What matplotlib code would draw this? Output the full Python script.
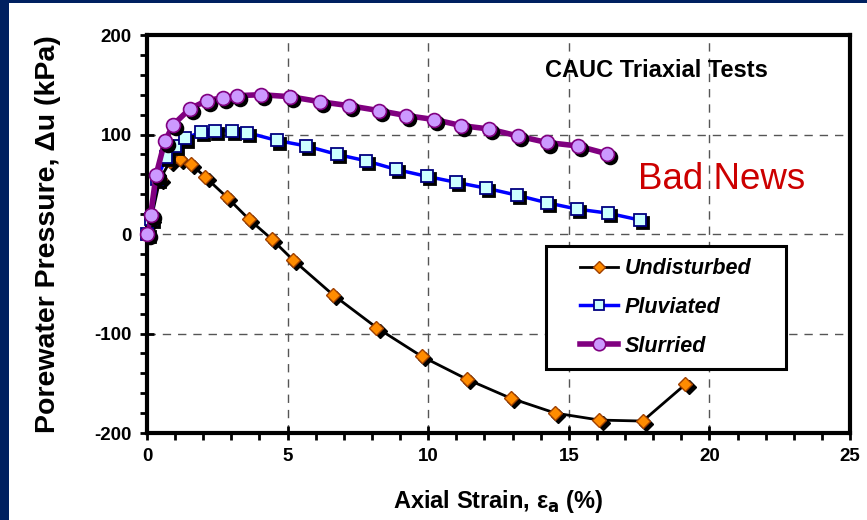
import matplotlib
matplotlib.use("Agg")
import matplotlib.pyplot as plt
import matplotlib.transforms as mtransforms
from matplotlib.lines import Line2D
from matplotlib.patches import Rectangle

plt.rcParams['font.family'] = ['Liberation Sans', 'DejaVu Sans']
plt.rcParams['axes.unicode_minus'] = False

# Axial strain (%) and excess porewater pressure (kPa) for each specimen
undisturbed_strain = [0, 0.15, 0.46, 0.82, 1.18, 1.58, 2.08, 2.84, 3.62, 4.43, 5.19,
                      6.61, 8.16, 9.77, 11.38, 12.93, 14.52, 16.09, 17.63, 19.15]
undisturbed_du = [0, 15, 55, 73, 75, 70, 57, 37, 15, -5, -26,
                  -61, -94, -123, -146, -165, -180, -187, -188, -151]

pluviated_strain = [0, 0.13, 0.35, 0.68, 0.99, 1.36, 1.91, 2.43, 3.03, 3.55, 4.62,
                    5.66, 6.76, 7.8, 8.84, 9.94, 10.98, 12.07, 13.16, 14.21,
                    15.3, 16.39, 17.53]
pluviated_du = [0, 15, 55, 77, 88, 96, 102.5, 103.5, 104, 102, 94,
                88.5, 80, 73.5, 65, 58, 52, 46, 39, 31.5, 25, 21, 14]

slurried_strain = [0, 0.13, 0.32, 0.63, 0.94, 1.53, 2.12, 2.69, 3.19, 4.05, 5.09,
                   6.14, 7.18, 8.25, 9.22, 10.22, 11.17, 12.17, 13.19, 14.21,
                   15.32, 16.37]
slurried_du = [0, 19, 59, 93, 110, 126, 134, 137, 139, 140, 138,
               133, 129, 124, 119, 115, 109, 105.5, 98.5, 92, 88.5, 80.5]

x_ticks = [0, 5, 10, 15, 20, 25]
y_ticks = [-200, -100, 0, 100, 200]

fig = plt.figure(figsize=(8.67, 5.2), dpi=100)
fig.patch.set_facecolor('white')

# navy slide border on the left and top edges
navy = '#002060'
fig.add_artist(Rectangle((0, 0), 9 / 867, 1, transform=fig.transFigure,
                         facecolor=navy, edgecolor='none', zorder=0))
fig.add_artist(Rectangle((0, 1 - 3 / 520), 1, 3 / 520, transform=fig.transFigure,
                         facecolor=navy, edgecolor='none', zorder=0))

ax = fig.add_axes([147 / 867, 1 - 433 / 520, (850 - 147) / 867, (433 - 35) / 520])
ax.set_xlim(0, 25)
ax.set_ylim(-200, 200)
ax.set_xticks(x_ticks)
ax.set_yticks(y_ticks)
ax.set_xticks(range(0, 26), minor=True)
ax.set_yticks(range(-200, 201, 20), minor=True)
ax.tick_params(which='major', direction='inout', length=10, width=2,
               labelsize=13.5, pad=6)
ax.tick_params(which='minor', direction='out', length=5, width=2)
for lab in ax.get_xticklabels() + ax.get_yticklabels():
    lab.set_fontweight('bold')
for sp in ax.spines.values():
    sp.set_linewidth(3)
ax.grid(True, which='major', color='#555555', linestyle=(0, (6, 5)), linewidth=1)
ax.set_axisbelow(True)

shadow = mtransforms.offset_copy(ax.transData, fig=fig, x=2.2, y=-2.2, units='points')

series = [
    ('Undisturbed', undisturbed_strain, undisturbed_du,
     dict(color='black', lw=2, marker='D', ms=7, mfc='#FF8C00', mec='#A04000', mew=1)),
    ('Pluviated', pluviated_strain, pluviated_du,
     dict(color='#0000FF', lw=2.5, marker='s', ms=8.5, mfc='#CCFFFF', mec='#000080', mew=1.3)),
    ('Slurried', slurried_strain, slurried_du,
     dict(color='#800080', lw=4, marker='o', ms=10, mfc='#CC99FF', mec='#800080', mew=1.2)),
]

handles = []
z = 3
for name, xs, ys, st in series:
    ax.plot(xs, ys, color=st['color'], lw=st['lw'], zorder=z, solid_capstyle='round')
    ax.plot(xs, ys, ls='none', marker=st['marker'], ms=st['ms'], mfc='black',
            mec='black', mew=st['mew'], transform=shadow, zorder=z + 0.5)
    ax.plot(xs, ys, ls='none', marker=st['marker'], ms=st['ms'], mfc=st['mfc'],
            mec=st['mec'], mew=st['mew'], zorder=z + 1, clip_on=False)
    handles.append(Line2D([], [], color=st['color'], lw=st['lw'], marker=st['marker'],
                          ms=st['ms'] * 0.9, mfc=st['mfc'], mec=st['mec'], mew=st['mew'],
                          label=name))
    z += 2

# legend box drawn as its own rectangle, entries centred inside it
box_x0, box_x1, box_y0, box_y1 = 0.5676, 0.909, 0.1608, 0.4698
ax.add_patch(Rectangle((box_x0, box_y0), box_x1 - box_x0, box_y1 - box_y0,
                       transform=ax.transAxes, facecolor='white', edgecolor='black',
                       linewidth=2.2, zorder=19))
leg = ax.legend(handles=handles, loc='center',
                bbox_to_anchor=((box_x0 + box_x1) / 2, (box_y0 + box_y1) / 2),
                borderaxespad=0, frameon=False, handlelength=1.75, handletextpad=0.33,
                labelspacing=0.83, borderpad=0,
                prop=dict(family='Liberation Sans', weight='bold', style='italic', size=15.5))
leg.set_zorder(20)

ax.text(0.724, 0.912, 'CAUC Triaxial Tests', transform=ax.transAxes, ha='center',
        va='center', fontsize=17, fontweight='bold', zorder=15)
ax.text(0.818, 0.638, 'Bad News', transform=ax.transAxes, ha='center',
        va='center', fontsize=26.5, color='#CC0000', zorder=15)

ax.set_ylabel('Porewater Pressure, Δu (kPa)', fontsize=20.5, fontweight='bold')
ax.yaxis.set_label_coords(-0.123, 0.5)
ax.set_xlabel(r'Axial Strain, ε$_\mathbf{a}$ (%)', fontsize=17, fontweight='bold')
ax.xaxis.set_label_coords(0.5, -0.138)

fig.savefig('out.png', dpi=100, facecolor=fig.get_facecolor())
